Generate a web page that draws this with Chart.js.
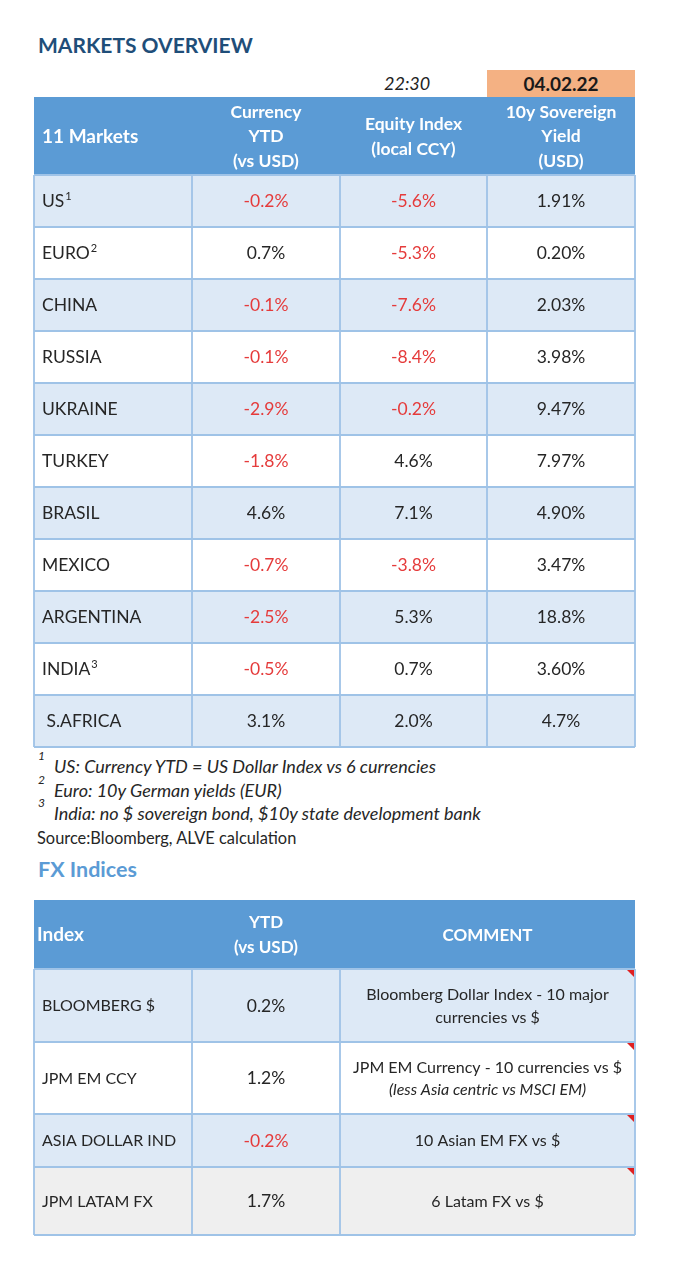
<!DOCTYPE html>
<html>
<head>
<meta charset="utf-8">
<script src="https://cdn.jsdelivr.net/npm/chart.js@4.4.1/dist/chart.umd.min.js"></script>
<style>
  html, body { margin: 0; padding: 0; background: #ffffff; }
  body { width: 690px; height: 1280px; position: relative; overflow: hidden; font-family: Lato, "Open Sans", sans-serif; }
  .t { position: absolute; white-space: nowrap; line-height: 1; }
  canvas { position: absolute; }
</style>
</head>
<body>
<div class="t" style="left:38px;top:34px;font-size:21px;font-weight:bold;color:#1f4e79;">MARKETS OVERVIEW</div>
<div class="t" style="left:384px;top:73.5px;font-size:18px;font-style:italic;color:#222;">22:30</div>
<div class="t" style="left:487px;top:70px;width:148px;height:27px;line-height:28px;background:#f4b183;text-align:center;font-size:19px;font-weight:bold;color:#1a1a1a;">04.02.22</div>

<canvas id="marketsTable" width="603" height="652" style="left:33px;top:96px;"></canvas>

<div id="notes"></div>
<div class="t" style="left:37px;top:829.5px;font-size:16.4px;color:#262626;">Source:Bloomberg, ALVE calculation</div>
<div class="t" style="left:38px;top:858.5px;font-size:21.5px;font-weight:bold;color:#5b9bd5;">FX Indices</div>

<canvas id="fxTable" width="603" height="337" style="left:33px;top:899px;"></canvas>

<script>
// ---------------- DATA ----------------
const marketHeaders = [['11 Markets'], ['Currency', 'YTD', '(vs USD)'], ['Equity Index', '(local CCY)'], ['10y Sovereign', 'Yield', '(USD)']];
const markets = ['US', 'EURO', 'CHINA', 'RUSSIA', 'UKRAINE', 'TURKEY', 'BRASIL', 'MEXICO', 'ARGENTINA', 'INDIA', ' S.AFRICA'];
const marketNotes = ['1', '2', '', '', '', '', '', '', '', '3', ''];
const currencyYTD = [-0.2, 0.7, -0.1, -0.1, -2.9, -1.8, 4.6, -0.7, -2.5, -0.5, 3.1];
const equityIndex = [-5.6, -5.3, -7.6, -8.4, -0.2, 4.6, 7.1, -3.8, 5.3, 0.7, 2.0];
const sovereignYield = [1.91, 0.20, 2.03, 3.98, 9.47, 7.97, 4.90, 3.47, 18.8, 3.60, 4.7];
const yieldDecimals = [2, 2, 2, 2, 2, 2, 2, 2, 1, 2, 1];

const footnotes = [
  ['1', 'US: Currency YTD = US Dollar Index vs 6 currencies'],
  ['2', 'Euro: 10y German yields (EUR)'],
  ['3', 'India: no $ sovereign bond, $10y state development bank']
];

const fxHeaders = [['Index'], ['YTD', '(vs USD)'], ['COMMENT']];
const fxIndices = ['BLOOMBERG $', 'JPM EM CCY', 'ASIA DOLLAR IND', 'JPM LATAM FX'];
const fxYTD = [0.2, 1.2, -0.2, 1.7];
const fxComments = [
  ['Bloomberg Dollar Index - 10 major', 'currencies vs $'],
  ['JPM EM Currency - 10 currencies vs $', '(less Asia centric vs MSCI EM)'],
  ['10 Asian EM FX vs $'],
  ['6 Latam FX vs $']
];

// ---------------- STYLE / LAYOUT ----------------
const FONT = 'Lato, "Open Sans", sans-serif';
const HEADER_BLUE = '#5b9bd5';
const LIGHT_BLUE = '#dde9f6';
const GRID = '#9fc3e7';
const RED = '#e53b3b';
const INK = '#262626';

// footnotes (HTML text)
(function () {
  const holder = document.getElementById('notes');
  const centers = [766, 790, 813];
  footnotes.forEach((f, i) => {
    const s = document.createElement('div');
    s.className = 't';
    s.style.cssText = `left:38px;top:${centers[i] - 16}px;font-size:12px;font-style:italic;color:${INK};`;
    s.textContent = f[0];
    holder.appendChild(s);
    const d = document.createElement('div');
    d.className = 't';
    d.style.cssText = `left:54px;top:${centers[i] - 9.5}px;font-size:18px;font-style:italic;color:${INK};`;
    d.textContent = f[1];
    holder.appendChild(d);
  });
})();

function pct(v, dec) {
  return { t: v.toFixed(dec) + '%', color: v < 0 ? RED : INK };
}

// ---------- table specs built from the data arrays ----------
const marketsSpec = {
  colW: [158, 148, 147, 148],
  rowH: [78].concat(markets.map(() => 52)),
  fills: [HEADER_BLUE].concat(markets.map((_, i) => (i % 2 === 0 ? LIGHT_BLUE : '#ffffff'))),
  lineGap: [24.5].concat(markets.map(() => 22)),
  cells: [
    marketHeaders.map((lines, c) => ({
      align: c === 0 ? 'left' : 'center', pad: 8,
      lines: lines.map(t => ({ t, bold: true, color: '#ffffff', size: c === 0 ? 19 : 17.5 }))
    }))
  ].concat(markets.map((m, i) => [
    { align: 'left', pad: 8, lines: [{ t: m, sup: marketNotes[i], color: INK, size: 17.5 }] },
    { align: 'center', lines: [Object.assign(pct(currencyYTD[i], 1), { size: 17.5 })] },
    { align: 'center', lines: [Object.assign(pct(equityIndex[i], 1), { size: 17.5 })] },
    { align: 'center', lines: [Object.assign(pct(sovereignYield[i], yieldDecimals[i]), { size: 17.5, color: INK })] }
  ])),
  flags: false
};

const fxSpec = {
  colW: [158, 148, 295],
  rowH: [69, 73, 72, 53, 68],
  fills: [HEADER_BLUE, LIGHT_BLUE, '#ffffff', LIGHT_BLUE, '#efefef'],
  lineGap: [25, 22.5, 22.5, 22.5, 22.5],
  cells: [
    fxHeaders.map((lines, c) => ({
      align: c === 0 ? 'left' : 'center', pad: 3,
      lines: lines.map(t => ({ t, bold: true, color: '#ffffff', size: c === 0 ? 19 : 17 }))
    }))
  ].concat(fxIndices.map((name, i) => [
    { align: 'left', pad: 8, lines: [{ t: name, color: INK, size: 16 }] },
    { align: 'center', lines: [Object.assign(pct(fxYTD[i], 1), { size: 17.5 })] },
    { align: 'center', lines: fxComments[i].map((t, k) => ({ t, color: INK, size: 16, italic: i === 1 && k === 1 })) }
  ])),
  flags: true
};

// ---------- drawing through the chart's scales ----------
function drawTable(chart, spec) {
  const ctx = chart.ctx;
  const xs = chart.scales.x, ys = chart.scales.y;
  const ce = [0]; spec.colW.forEach(w => ce.push(ce[ce.length - 1] + w));
  const re = [0]; spec.rowH.forEach(h => re.push(re[re.length - 1] + h));
  const px = c => xs.getPixelForValue(ce[c]);
  const py = r => ys.getPixelForValue(re[r]);
  const nC = spec.colW.length, nR = spec.rowH.length;

  ctx.save();
  for (let r = 0; r < nR; r++) {
    ctx.fillStyle = spec.fills[r];
    ctx.fillRect(px(0), py(r), px(nC) - px(0), py(r + 1) - py(r));
  }
  ctx.strokeStyle = GRID;
  ctx.lineWidth = 1.8;
  ctx.beginPath();
  for (let r = 1; r <= nR; r++) {
    ctx.moveTo(px(0), py(r)); ctx.lineTo(px(nC), py(r));
  }
  for (let c = 0; c <= nC; c++) {
    ctx.moveTo(px(c), py(1)); ctx.lineTo(px(c), py(nR));
  }
  ctx.stroke();

  if (spec.flags) {
    ctx.fillStyle = '#e02020';
    for (let r = 1; r < nR; r++) {
      const x1 = px(nC) - 1, y0 = py(r) + 1;
      ctx.beginPath();
      ctx.moveTo(x1 - 7, y0); ctx.lineTo(x1, y0); ctx.lineTo(x1, y0 + 7); ctx.closePath();
      ctx.fill();
    }
  }

  ctx.textBaseline = 'alphabetic';
  for (let r = 0; r < nR; r++) {
    const yc = (py(r) + py(r + 1)) / 2;
    spec.cells[r].forEach((cell, c) => {
      const x0 = px(c), x1 = px(c + 1);
      const n = cell.lines.length, gap = spec.lineGap[r];
      cell.lines.forEach((ln, k) => {
        const size = ln.size;
        const yMid = yc + (k - (n - 1) / 2) * gap;
        const base = yMid + 0.36 * size;
        ctx.font = `${ln.italic ? 'italic ' : ''}${ln.bold ? 'bold ' : ''}${size}px ${FONT}`;
        ctx.fillStyle = ln.color;
        let x;
        if (cell.align === 'left') { ctx.textAlign = 'left'; x = x0 + (cell.pad || 8); }
        else { ctx.textAlign = 'center'; x = (x0 + x1) / 2; }
        ctx.fillText(ln.t, x, base);
        if (ln.sup) {
          const w = ctx.measureText(ln.t).width;
          ctx.font = `11px ${FONT}`;
          ctx.textAlign = 'left';
          ctx.fillText(ln.sup, x + w + 1, base - 7.5);
        }
      });
    });
  }
  ctx.restore();
}

function makeTable(canvasId, spec) {
  const W = spec.colW.reduce((a, b) => a + b, 0);
  const H = spec.rowH.reduce((a, b) => a + b, 0);
  return new Chart(document.getElementById(canvasId), {
    type: 'scatter',
    data: { datasets: [] },
    options: {
      responsive: false,
      animation: false,
      events: [],
      layout: { padding: 1 },
      plugins: { legend: { display: false }, tooltip: { enabled: false }, title: { display: false } },
      scales: {
        x: { type: 'linear', min: 0, max: W, display: false },
        y: { type: 'linear', min: 0, max: H, reverse: true, display: false }
      }
    },
    plugins: [{ id: 'tableCells', afterDraw: chart => drawTable(chart, spec) }]
  });
}

function build() {
  makeTable('marketsTable', marketsSpec);
  makeTable('fxTable', fxSpec);
}

const fontLoads = ['16px Lato', 'bold 16px Lato', 'italic 16px Lato'].map(f => document.fonts.load(f).catch(() => null));
Promise.all(fontLoads).then(build, build);
</script>
</body>
</html>
